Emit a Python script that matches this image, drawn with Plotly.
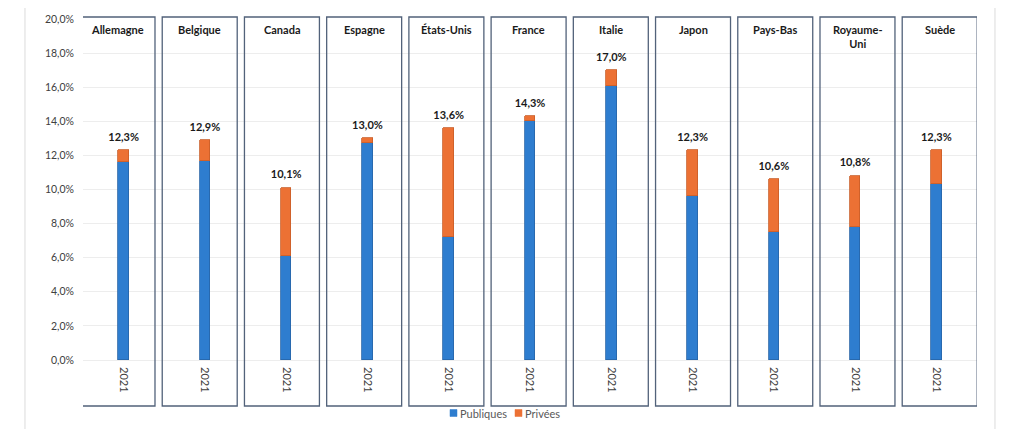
import plotly.graph_objects as go

countries = ["Allemagne", "Belgique", "Canada", "Espagne", "États-Unis", "France",
             "Italie", "Japon", "Pays-Bas", "Royaume-<br>Uni", "Suède"]
years = ["2021"] * 11
publiques = [0.116, 0.117, 0.061, 0.127, 0.072, 0.140, 0.161, 0.096, 0.075, 0.078, 0.103]
privees = [0.007, 0.012, 0.040, 0.003, 0.064, 0.003, 0.009, 0.027, 0.031, 0.030, 0.020]
totals = [0.123, 0.129, 0.101, 0.130, 0.136, 0.143, 0.170, 0.123, 0.106, 0.108, 0.123]
y_ticks = [0.0, 0.02, 0.04, 0.06, 0.08, 0.10, 0.12, 0.14, 0.16, 0.18, 0.20]
series_names = ["Publiques", "Privées"]

BLUE = "#2E7DCF"
ORANGE = "#EC7134"
FONT = "Lato"

x = list(range(len(countries)))

fig = go.Figure()
fig.add_trace(go.Bar(
    x=x, y=publiques, name=series_names[0], width=0.13, showlegend=False,
    marker=dict(color=BLUE, line=dict(color="#2764A6", width=0.8)),
))
fig.add_trace(go.Bar(
    x=x, y=privees, name=series_names[1], width=0.13, showlegend=False,
    marker=dict(color=ORANGE, line=dict(color="#C95E28", width=0.8)),
))
fig.add_trace(go.Scatter(
    x=x, y=totals, mode="markers+text",
    marker=dict(size=9, color="rgba(0,0,0,0)"),
    text=[f"{t*100:.1f}%".replace(".", ",") for t in totals],
    textposition="top center",
    textfont=dict(family=FONT, size=11, color="#1a1a1a", weight="bold"),
    showlegend=False, hoverinfo="skip", cliponaxis=False,
))

W_PLOT = 894.0
H_PLOT = 341.0

shapes = []
annotations = []
box_w = 0.9225
for i, c in enumerate(countries):
    cx = -0.0755 + i * 1.01165
    shapes.append(dict(
        type="rect", xref="x", yref="paper",
        x0=cx - box_w / 2, x1=cx + box_w / 2, y0=-0.1349, y1=1.0059,
        line=dict(color="#52627A", width=1.3), fillcolor="rgba(0,0,0,0)", layer="above",
    ))
    annotations.append(dict(
        x=cx, y=0.995, xref="x", yref="paper", text=f"<b>{c}</b>",
        showarrow=False, yanchor="top", xanchor="center",
        font=dict(family=FONT, size=11, color="#1a1a1a"),
    ))

# Outer chart frame
shapes.append(dict(
    type="rect", xref="paper", yref="paper",
    x0=-0.0649, x1=1.0201, y0=-0.35, y1=1.041,
    line=dict(color="#DCDCDC", width=1), fillcolor="rgba(0,0,0,0)", layer="below",
))

# Custom legend (small squares + labels)
legend_items = [(series_names[0], BLUE, 450), (series_names[1], ORANGE, 515)]
ly = -53.0 / H_PLOT
for name, col, px in legend_items:
    x0 = (px - 83) / W_PLOT
    shapes.append(dict(
        type="rect", xref="paper", yref="paper",
        x0=x0, x1=x0 + 7 / W_PLOT, y0=ly - 3.5 / H_PLOT, y1=ly + 3.5 / H_PLOT,
        line=dict(color=col, width=0.5), fillcolor=col,
    ))
    annotations.append(dict(
        x=x0 + 8 / W_PLOT, y=ly, xref="paper", yref="paper", text=name,
        showarrow=False, xanchor="left", yanchor="middle",
        font=dict(family=FONT, size=11, color="#595959"),
    ))

# The page places the figure 8px from the top-left corner, so the figure is
# 8px smaller and its margins are shifted accordingly.
fig.update_layout(
    width=1016, height=421,
    margin=dict(l=75, r=47, t=11, b=69, autoexpand=False),
    barmode="stack",
    paper_bgcolor="white", plot_bgcolor="white",
    separators=",.",
    shapes=shapes, annotations=annotations,
    font=dict(family=FONT, size=11, color="#404040"),
    showlegend=False,
    bargap=0,
)
fig.update_xaxes(
    range=[-0.5, 10.5], tickmode="array", tickvals=x, ticktext=years,
    tickangle=90, showgrid=False, showline=False, ticks="", zeroline=False,
    automargin=False, ticklabelstandoff=6,
    tickfont=dict(family=FONT, size=11, color="#404040"),
)
fig.update_yaxes(
    range=[0, 0.2], tickmode="array", tickvals=y_ticks, tickformat=".1%",
    showgrid=True, gridcolor="#EDEDED", gridwidth=1, zeroline=True,
    zerolinecolor="#EDEDED", zerolinewidth=1, showline=False, ticks="",
    automargin=False, ticklabelstandoff=8,
    tickfont=dict(family=FONT, size=10.5, color="#404040"),
)

fig.write_html("out.html")
